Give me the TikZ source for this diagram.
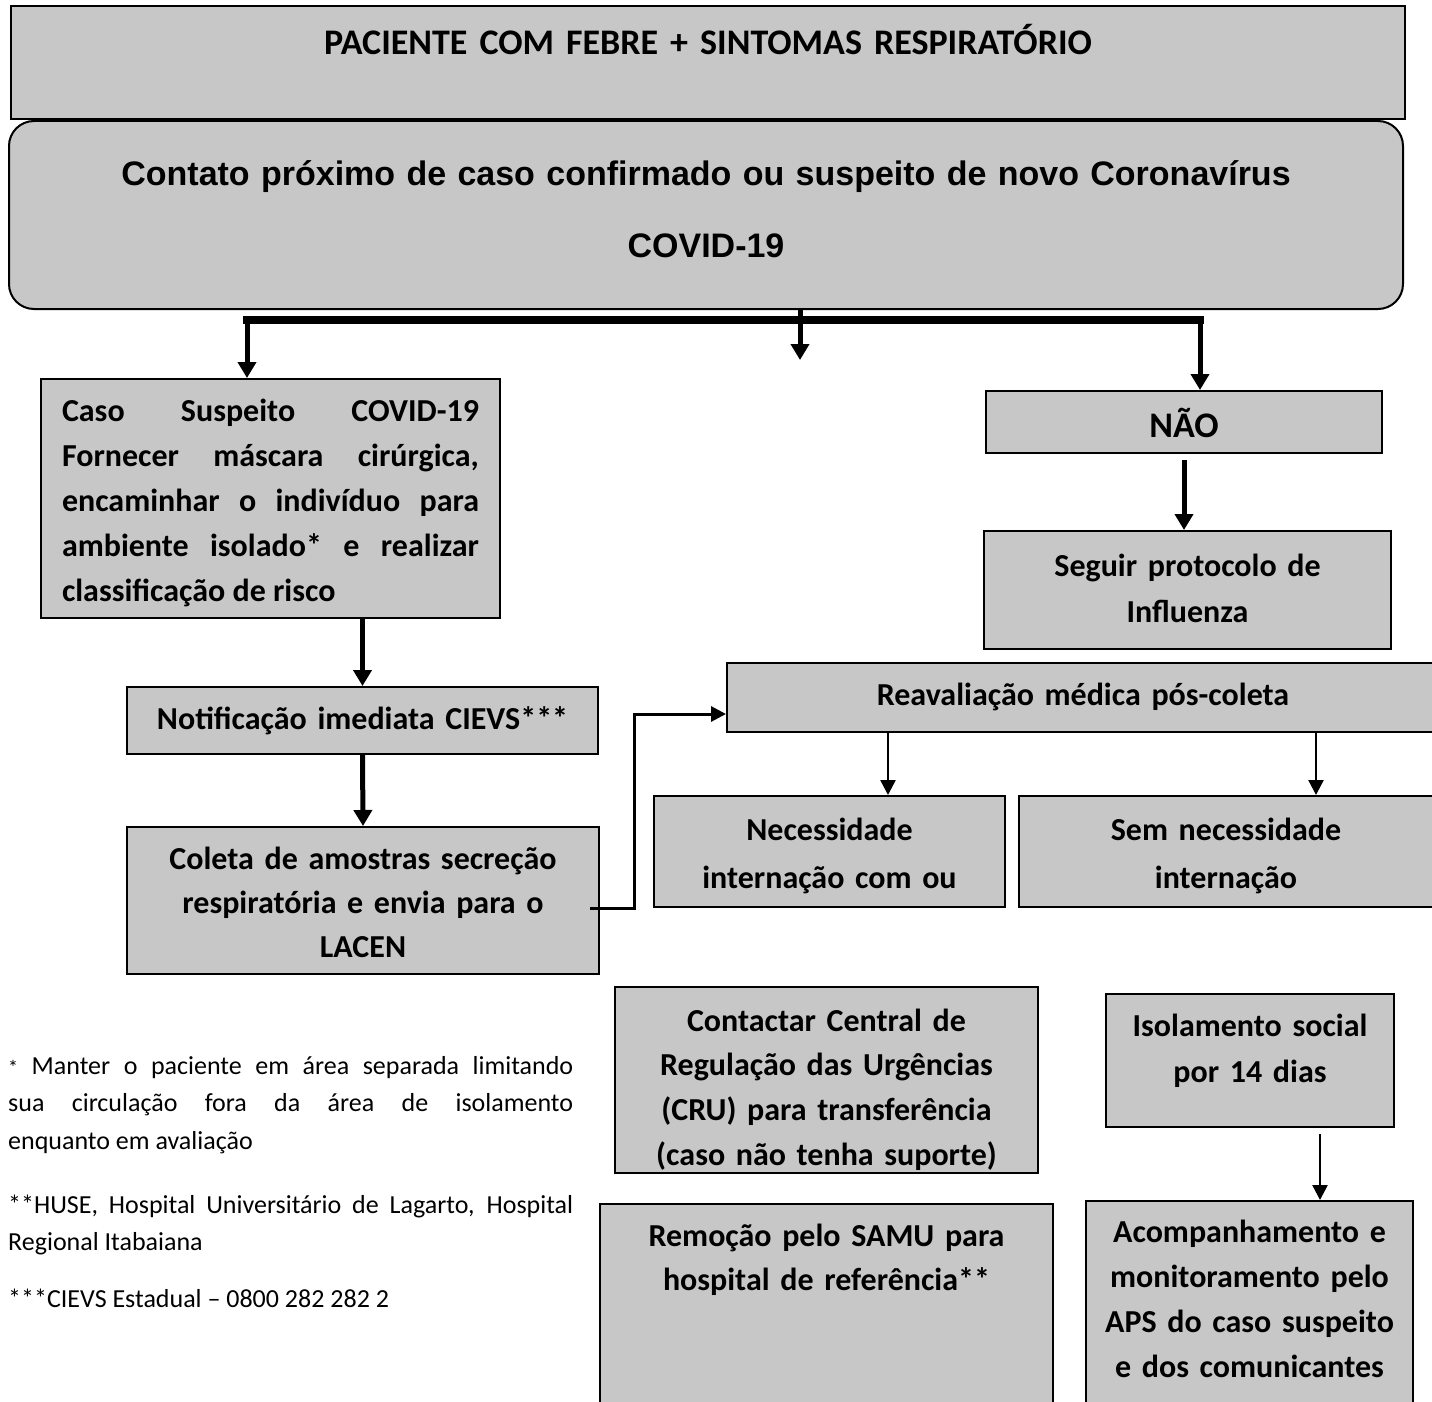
\documentclass[tikz,border=0pt]{standalone}
\usepackage{fontspec}
\setmainfont{Carlito}
\newfontfamily\arialfont{Liberation Sans}
\usetikzlibrary{arrows.meta}
\definecolor{fundo}{gray}{0.78}
\tolerance=10000

\begin{document}
\begin{tikzpicture}[x=1pt,y=-1pt,
    bloco/.style={draw,line width=2pt,fill=fundo,anchor=north west,inner sep=0pt,align=center,
      font=\bfseries\fontsize{32}{45}\selectfont},
    nota/.style={anchor=base west,inner sep=0pt,font=\fontsize{26}{37.5}\selectfont},
    seta/.style={draw,line width=5pt,-{Triangle[width=18pt,length=16pt]}},
    setafina/.style={draw,line width=2.5pt,-{Triangle[width=15pt,length=15pt]}},
    ligacao/.style={draw,line width=3pt,-{Triangle[width=15pt,length=15pt]}}]
    \path[use as bounding box] (0,0) rectangle (1432,1402);
    \clip (0,0) rectangle (1432,1402);

    \node[bloco,text width=1394pt,text height=48.5pt,text depth=64.5pt,font=\bfseries\fontsize{36}{45}\selectfont] (paciente) at (10,5) {PACIENTE COM FEBRE + SINTOMAS RESPIRATÓRIO};
    \node[bloco,rounded corners=25pt,text width=1394pt,text height=64pt,text depth=124pt,font=\arialfont\bfseries\fontsize{34}{73}\selectfont] (contato) at (8,120) {Contato próximo de caso confirmado ou suspeito de novo Coronavírus\\COVID-19};
    \node[bloco,inner xsep=21pt,text width=417pt,text height=42pt,text depth=197pt,align=justify] (caso) at (40,378) {Caso Suspeito COVID-19\linebreak Fornecer máscara cirúrgica,\linebreak encaminhar o indivíduo para\linebreak ambiente isolado* e realizar\linebreak classificação de risco};
    \node[bloco,text width=396pt,text height=46.5pt,text depth=15.5pt,font=\bfseries\fontsize{36}{45}\selectfont] (nao) at (985,390) {NÃO};
    \node[bloco,text width=407pt,text height=45pt,text depth=73pt,font=\bfseries\fontsize{32}{46}\selectfont] (seguir) at (983,530) {Seguir protocolo de\\Influenza};
    \node[bloco,text width=471pt,text height=42pt,text depth=25pt] (notif) at (126,686) {Notificação imediata CIEVS***};
    \node[bloco,text width=472pt,text height=42pt,text depth=105pt,font=\bfseries\fontsize{32}{44}\selectfont] (coleta) at (126,826) {Coleta de amostras secreção\\respiratória e envia para o\\LACEN};
    \node[bloco,text width=712pt,text height=42pt,text depth=27pt] (reav) at (726,662) {Reavaliação médica pós-coleta};
    \node[bloco,text width=351pt,text height=44pt,text depth=67pt,font=\bfseries\fontsize{32}{48}\selectfont] (necess) at (653,795) {Necessidade\\internação com ou};
    \node[bloco,text width=414pt,text height=44pt,text depth=67pt,font=\bfseries\fontsize{32}{48}\selectfont] (semnec) at (1018,795) {Sem necessidade\\internação};
    \node[bloco,text width=423pt,text height=44pt,text depth=142pt,font=\bfseries\fontsize{32}{44.7}\selectfont] (contactar) at (614,986) {Contactar Central de\\Regulação das Urgências\\(CRU) para transferência\\(caso não tenha suporte)};
    \node[bloco,text width=288pt,text height=42pt,text depth=91pt,font=\bfseries\fontsize{32}{46}\selectfont] (isol) at (1105,993) {Isolamento social\\por 14 dias};
    \node[bloco,text width=453pt,text height=42pt,text depth=180pt,font=\bfseries\fontsize{32}{44}\selectfont] (remocao) at (599,1203) {Remoção pelo SAMU para\\hospital de referência**};
    \node[bloco,text width=327pt,text height=41pt,text depth=189pt] (acomp) at (1085,1200) {Acompanhamento e\\monitoramento pelo\\APS do caso suspeito\\e dos comunicantes};

    \node[nota,text width=565pt,align=justify] (nota1) at (8,1074) {{\fontsize{20}{20}\selectfont *} Manter o paciente em área separada limitando\linebreak sua circulação fora da área de isolamento\linebreak enquanto em avaliação};
    \node[nota,text width=565pt,align=justify] (nota2) at (8,1213) {**HUSE, Hospital Universitário de Lagarto, Hospital\linebreak Regional Itabaiana};
    \node[nota] (nota3) at (8,1307) {***CIEVS Estadual – 0800 282 282 2};

    % ramificacao no topo
    \coordinate (ramo) at (800,320);
    \coordinate (ramoE) at (247,320);
    \coordinate (ramoD) at (1200,320);
    \coordinate (meio) at (800,360);
    \coordinate (x888) at (888,0);
    \coordinate (x1316) at (1316,0);
    \coordinate (x1320) at (1320,0);

    \path [draw,line width=5pt] (contato.south -| ramo) to (ramo);
    \path [draw,line width=8pt,line cap=rect] (ramoE) to (ramoD);
    \path [seta] (ramoE) to (ramoE |- caso.north);
    \path [seta] (ramo) to (meio);
    \path [seta] (ramoD) to (ramoD |- nao.north);
    \path [seta] (caso.south -| notif.north) to (notif.north);
    \path [seta] (notif.south) to (coleta.north);
    \path [seta,shorten <=6pt] (nao.south) to (nao.south |- seguir.north);
    \path [ligacao] ([shift={(-10pt,-8pt)}]coleta.east) -- ++(44,0) |- ([yshift=19pt]reav.south west);
    \path [setafina] (reav.south -| x888) to (necess.north -| x888);
    \path [setafina] (reav.south -| x1316) to (semnec.north -| x1316);
    \path [setafina,shorten <=6pt] (isol.south -| x1320) to (acomp.north -| x1320);
\end{tikzpicture}
\end{document}
